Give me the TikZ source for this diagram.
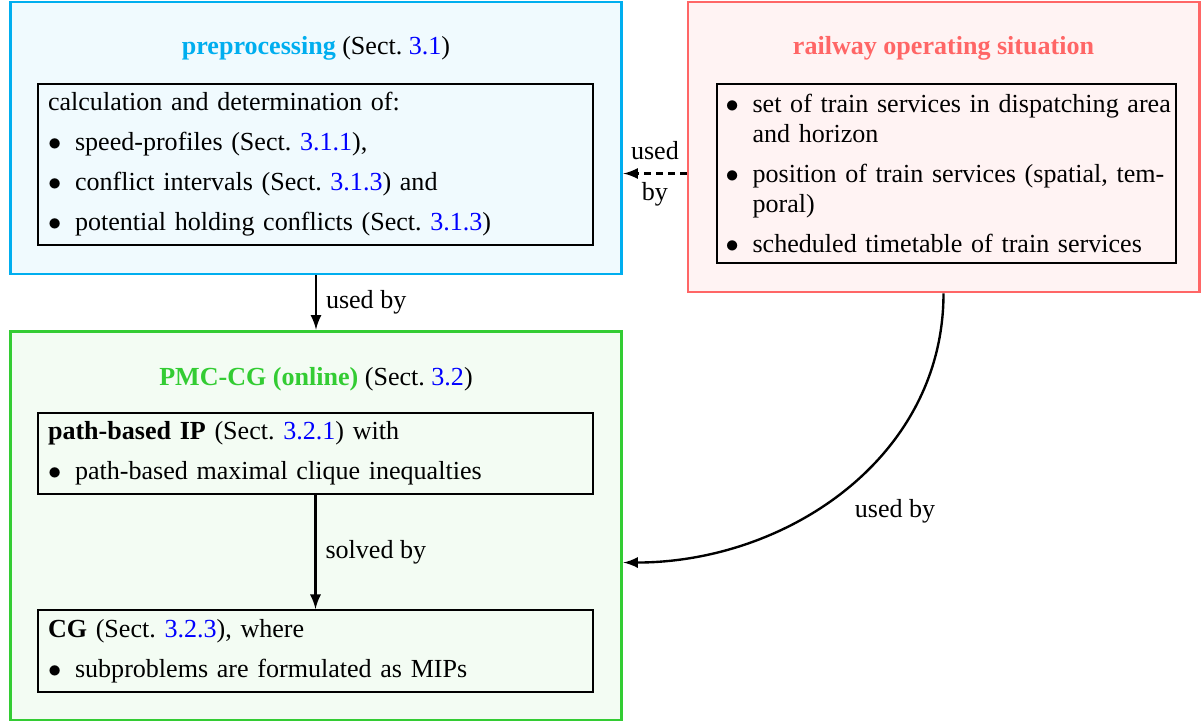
\documentclass[tikz,border=0pt]{standalone}
\usepackage{fontspec}
\setmainfont{Liberation Serif}
\usepackage{xcolor}
\usepackage{tikz}
\usetikzlibrary{shapes.geometric, arrows}
\definecolor{preblue}{RGB}{0,174,239}
\definecolor{railred}{RGB}{255,102,102}
\definecolor{pmcgreen}{RGB}{51,204,51}
\definecolor{linkblue}{RGB}{0,0,255}
\tikzstyle{outerbox} = [draw, line width=1.1pt, inner sep=0pt, minimum width=231.3pt]
\tikzstyle{innerbox} = [draw=black, line width=0.75pt, inner xsep=3.78pt, inner ysep=2pt, text width=202.2pt, execute at begin node={\setlength{\parskip}{3.78pt}}]
\tikzstyle{arrow} = [line width=0.9pt,->,>=latex]
\newcommand{\sect}[1]{(Sect.~\textcolor{linkblue}{#1})}
\newcommand{\bitem}[1]{\noindent\hangindent=10.2pt\makebox[10.2pt][l]{$\bullet$}#1}

\begin{document}
\begin{tikzpicture}[x=0.378pt,y=0.378pt,font=\fontsize{9.85}{11.34}\selectfont]
	\useasboundingbox (0,0) rectangle (1201,-723);
	
	% Outer boxes:
	\node[outerbox, draw=preblue, fill=preblue!6, minimum height=102.8pt] (pre) at (316,-138) {};
	\node[outerbox, draw=railred, fill=railred!8, minimum width=193.2pt, minimum height=109.6pt] (rail) at (943.5,-147) {};
	\node[outerbox, draw=pmcgreen, fill=pmcgreen!6, minimum height=147pt] (pmc) at (316,-525.5) {};
	
	% Titles:
	\node (preTitle) at (316,-48) {\textbf{\textcolor{preblue}{preprocessing}} \sect{3.1}};
	\node (railTitle) at (943.5,-48) {\textbf{\textcolor{railred}{railway operating situation}}};
	\node (pmcTitle) at (316,-379) {\textbf{\textcolor{pmcgreen}{PMC-CG (online)}} \sect{3.2}};
	
	% Inner boxes:
	\node[innerbox, minimum height=60.9pt] (preIn) at (315.5,-164.5) {calculation and determination of:\par
		\bitem{speed-profiles \sect{3.1.1},}\par
		\bitem{conflict intervals \sect{3.1.3} and}\par
		\bitem{potential holding conflicts \sect{3.1.3}}};
	\node[innerbox, inner xsep=3.2pt, text width=167pt, minimum height=67.7pt] (railIn) at (946.5,-173.5) {\bitem{\mbox{set of train services in dispatching area}\break and horizon}\par
		\bitem{\mbox{position of train services (spatial, tem-}\break poral)}\par
		\bitem{scheduled timetable of train services}};
	\node[innerbox, minimum height=30.6pt] (ipIn) at (315.5,-453.5) {\textbf{path-based IP} \sect{3.2.1} with\par
		\bitem{path-based maximal clique inequalties}};
	\node[innerbox, minimum height=31pt] (cgIn) at (315.5,-651) {\textbf{CG} \sect{3.2.3}, where\par
		\bitem{subproblems are formulated as MIPs}};
	
	% Connectors:
	\draw[arrow] (pre) -- node[right] (preLbl) {used by} (pmc);
	\draw[arrow] (ipIn) -- node[right] (ipLbl) {solved by} (cgIn);
	\draw[arrow, dash pattern=on 2.5pt off 2pt] (rail.west |- railIn) -- node[align=center] (dashLbl) {used\\[4pt]by} (pre.east |- railIn);
	\draw[arrow] (rail.south) to[out=-90, in=0] node[pos=0.5, below right] (curveLbl) {used by} ([yshift=-14pt]pmc.east);
\end{tikzpicture}
\end{document}
